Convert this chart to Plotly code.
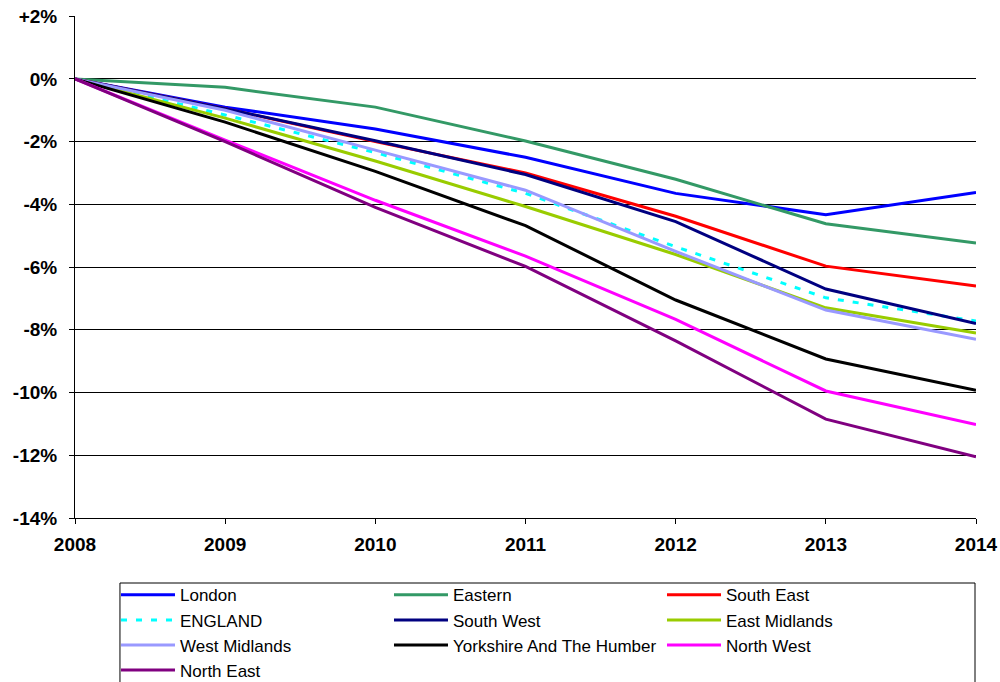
import plotly.graph_objects as go

# Cumulative change since 2008 (%), by English region
years = [2008, 2009, 2010, 2011, 2012, 2013, 2014]

london = [0, -0.90, -1.60, -2.50, -3.65, -4.33, -3.62]
eastern = [0, -0.27, -0.90, -1.98, -3.20, -4.62, -5.23]
south_east = [0, -0.95, -2.00, -3.00, -4.38, -5.97, -6.60]
england = [0, -1.15, -2.35, -3.65, -5.35, -6.98, -7.72]
south_west = [0, -0.95, -1.97, -3.05, -4.55, -6.70, -7.80]
east_midlands = [0, -1.25, -2.62, -4.07, -5.60, -7.30, -8.10]
west_midlands = [0, -1.00, -2.27, -3.55, -5.50, -7.37, -8.30]
yorkshire = [0, -1.38, -2.95, -4.68, -7.05, -8.93, -9.93]
north_west = [0, -1.95, -3.87, -5.65, -7.67, -9.95, -11.02]
north_east = [0, -2.00, -4.10, -5.98, -8.35, -10.85, -12.05]

y_ticks = [2, 0, -2, -4, -6, -8, -10, -12, -14]
y_tick_text = ["+2%", "0%", "-2%", "-4%", "-6%", "-8%", "-10%", "-12%", "-14%"]

series = [
    ("London", london, "#0000FF", "solid"),
    ("Eastern", eastern, "#339966", "solid"),
    ("South East", south_east, "#FF0000", "solid"),
    ("ENGLAND", england, "#00FFFF", "6px,9px"),
    ("South West", south_west, "#000080", "solid"),
    ("East Midlands", east_midlands, "#99CC00", "solid"),
    ("West Midlands", west_midlands, "#9999FF", "solid"),
    ("Yorkshire And The Humber", yorkshire, "#000000", "solid"),
    ("North West", north_west, "#FF00FF", "solid"),
    ("North East", north_east, "#800080", "solid"),
]

fig = go.Figure()
for name, vals, color, dash in series:
    fig.add_trace(go.Scatter(
        x=years, y=vals, name=name, mode="lines",
        line=dict(color=color, width=3, dash=dash),
    ))

font_family = "Liberation Sans, Arial, sans-serif"
tick_font = dict(family=font_family, size=19, color="black", weight="bold")

# Frame around the legend (wider than the legend's own box)
fig.add_shape(
    type="rect", xref="paper", yref="paper",
    x0=0.0499, x1=0.9989, y0=-0.1295, y1=-0.40,
    line=dict(color="black", width=1), fillcolor="rgba(0,0,0,0)",
    layer="above",
)

fig.update_layout(
    width=1000, height=682,
    margin=dict(l=75, r=24, t=16, b=164, autoexpand=False),
    paper_bgcolor="white", plot_bgcolor="white",
    font=dict(family=font_family, color="black"),
    showlegend=True,
    legend=dict(
        orientation="h",
        x=0.0455, xanchor="left",
        y=-0.118, yanchor="top",
        borderwidth=0,
        bgcolor="rgba(0,0,0,0)",
        font=dict(family=font_family, size=17, color="black"),
        entrywidth=204, entrywidthmode="pixels",
        itemwidth=54,
        traceorder="normal",
    ),
    xaxis=dict(
        range=[2008, 2014],
        tickmode="array", tickvals=years, ticktext=[str(y) for y in years],
        ticks="outside", ticklen=5, tickcolor="black", tickwidth=1,
        ticklabelstandoff=4,
        showline=True, linecolor="black", linewidth=1,
        showgrid=False, zeroline=False,
        tickfont=tick_font,
    ),
    yaxis=dict(
        range=[-14, 2.005],
        tickmode="array", tickvals=y_ticks, ticktext=y_tick_text,
        ticks="outside", ticklen=5, tickcolor="black", tickwidth=1,
        ticklabelstandoff=8,
        showline=True, linecolor="black", linewidth=1,
        showgrid=True, gridcolor="black", gridwidth=1,
        zeroline=False,
        tickfont=tick_font,
    ),
)

fig.write_html("out.html")
